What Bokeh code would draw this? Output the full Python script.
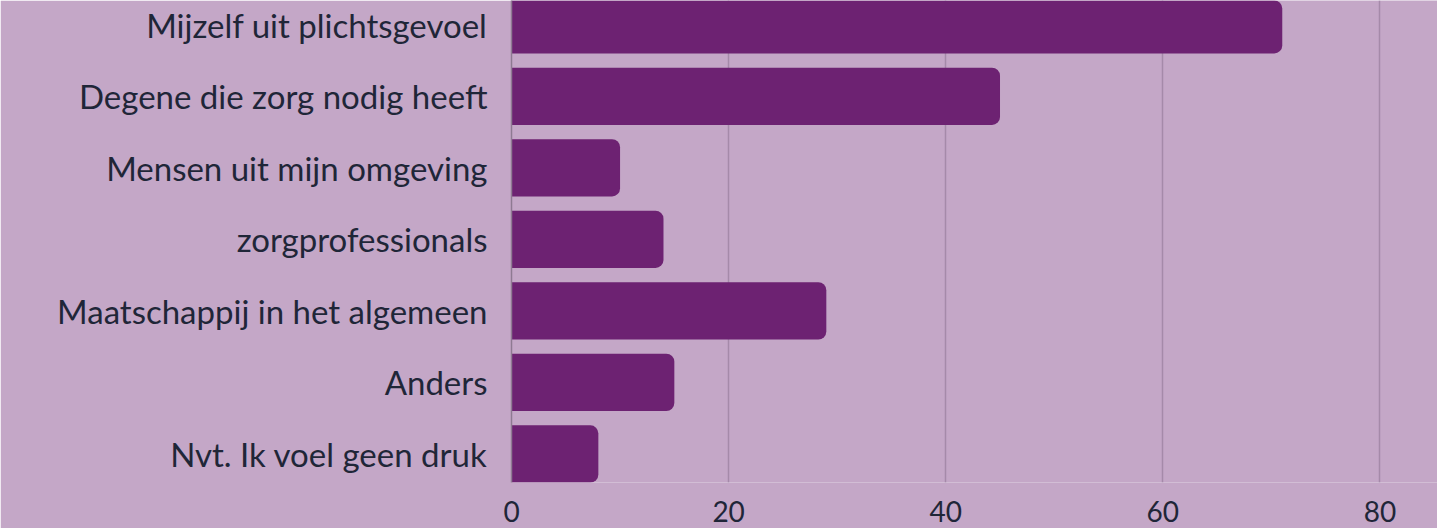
from bokeh.plotting import figure
from bokeh.models import Range1d, FixedTicker, ColumnDataSource
from bokeh.embed import file_html
from bokeh.resources import INLINE

categories = ["Mijzelf uit plichtsgevoel", "Degene die zorg nodig heeft",
              "Mensen uit mijn omgeving", "zorgprofessionals",
              "Maatschappij in het algemeen", "Anders", "Nvt. Ik voel geen druk"]
values = [71, 45, 10, 14, 29, 15, 8]
x_ticks = [0, 20, 40, 60, 80]

n = len(categories)
pos = [n - 1 - i for i in range(n)]
src = ColumnDataSource(dict(y=pos, v=values, cat=categories))

BG = "#c4a7c7"
BAR = "#6d2272"
TXT = "#1f2638"

p = figure(width=1437, height=528, output_backend="svg", toolbar_location=None,
           x_range=Range1d(0, 85.3), y_range=Range1d(-0.4, 6.34),
           min_border_left=511, min_border_right=0, min_border_top=0, min_border_bottom=46)
p.background_fill_color = BG
p.border_fill_color = BG
p.outline_line_color = None

p.hbar(y="y", right="v", left=0, height=0.8, source=src, fill_color=BAR,
       line_color=None, border_radius=(0, 8, 8, 0))

p.xaxis.ticker = FixedTicker(ticks=x_ticks)
p.xaxis.axis_line_color = None
p.xaxis.major_tick_line_color = None
p.xaxis.minor_tick_line_color = None
p.xaxis.major_label_text_font = "Lato"
p.xaxis.major_label_text_font_size = "28px"
p.xaxis.major_label_text_color = TXT
p.xaxis.major_label_standoff = 12

p.yaxis.ticker = FixedTicker(ticks=pos)
p.yaxis.major_label_overrides = {y: c for y, c in zip(pos, categories)}
p.yaxis.axis_line_color = "#8e7a92"
p.yaxis.axis_line_width = 1.5
p.yaxis.major_tick_line_color = None
p.yaxis.minor_tick_line_color = None
p.yaxis.major_label_text_font = "Lato"
p.yaxis.major_label_text_font_size = "33px"
p.yaxis.major_label_text_color = TXT
p.yaxis.major_label_standoff = 18

p.xgrid.grid_line_color = "#a58aa9"
p.xgrid.grid_line_width = 1.5
p.ygrid.grid_line_color = None

open("out.html", "w").write(file_html(p, INLINE))
